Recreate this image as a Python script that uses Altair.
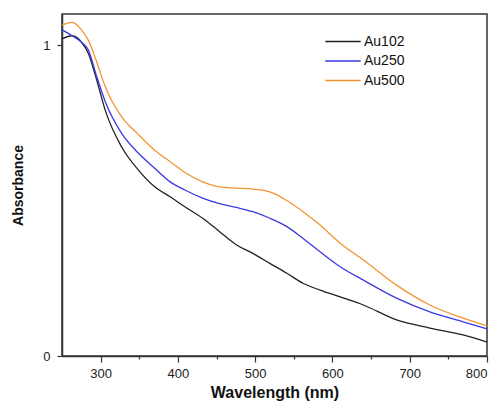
import altair as alt
import pandas as pd

wavelength = [250, 263, 275, 284, 295, 306, 327, 349, 370, 390, 409, 432, 454,
              476, 497, 519, 541, 562, 584, 610, 640, 683, 726, 769, 800]
au102 = [1.02, 1.03, 1.01, 0.974, 0.887, 0.79, 0.673, 0.598, 0.544, 0.512, 0.48,
         0.443, 0.40, 0.357, 0.33, 0.298, 0.266, 0.234, 0.212, 0.19, 0.164, 0.116,
         0.09, 0.068, 0.045]
au250 = [1.05, 1.03, 1.01, 0.985, 0.898, 0.818, 0.717, 0.652, 0.604, 0.56, 0.534,
         0.508, 0.49, 0.478, 0.464, 0.443, 0.416, 0.378, 0.335, 0.287, 0.244, 0.186,
         0.142, 0.11, 0.087]
au500 = [1.064, 1.073, 1.05, 1.016, 0.945, 0.866, 0.77, 0.712, 0.662, 0.625, 0.59,
         0.56, 0.544, 0.54, 0.537, 0.528, 0.50, 0.464, 0.421, 0.363, 0.309, 0.228,
         0.164, 0.122, 0.097]
series = ["Au102", "Au250", "Au500"]
colors = ["#222222", "#3a3ae0", "#f39433"]
x_ticks = [300, 350, 400, 450, 500, 550, 600, 650, 700, 750, 800]
y_ticks = [0, 0.5, 1]

rows = []
for name, vals in zip(series, [au102, au250, au500]):
    for w, v in zip(wavelength, vals):
        rows.append({"Wavelength": w, "Absorbance": v, "Sample": name})
df = pd.DataFrame(rows)

FONT = "Liberation Sans"

chart = alt.Chart(df).mark_line(interpolate="monotone", strokeWidth=1.3).encode(
    x=alt.X("Wavelength:Q",
            scale=alt.Scale(domain=[250, 800], nice=False, zero=False),
            axis=alt.Axis(title="Wavelength (nm)", values=x_ticks,
                          labelExpr="datum.value % 100 === 0 ? datum.label : ''",
                          tickSize={"condition": {"test": "datum.value % 100 === 0", "value": 6},
                                    "value": 3},
                          labelPadding=5, titlePadding=4, titleFontSize=16)),
    y=alt.Y("Absorbance:Q",
            scale=alt.Scale(domain=[0, 1.1], nice=False),
            axis=alt.Axis(title="Absorbance", values=y_ticks, format="d",
                          labelExpr="datum.value === 0.5 ? '' : datum.label",
                          tickSize={"condition": {"test": "datum.value === 0.5", "value": 3},
                                    "value": 5},
                          labelPadding=7, titlePadding=17, titleFontSize=14)),
    color=alt.Color("Sample:N",
                    scale=alt.Scale(domain=series, range=colors),
                    legend=alt.Legend(title=None, orient="none", legendX=273, legendY=19.5,
                                      symbolType="M-2.6,0H2.6", symbolSize=185,
                                      symbolStrokeWidth=1.4, symbolFillColor="transparent",
                                      labelFontSize=14,
                                      labelFont=FONT, labelColor="#111",
                                      rowPadding=4.5, labelOffset=13, padding=0)),
).properties(
    width=425, height=342, padding={"left": 3, "top": 6, "right": 0, "bottom": 2}
).configure_view(
    stroke="#333333", strokeWidth=1.5
).configure_axis(
    domainColor="#333333", domainWidth=1.5, tickColor="#333333", tickWidth=1.2,
    grid=False, labelFont=FONT, labelFontSize=13, labelColor="#222",
    titleFont=FONT, titleFontWeight="bold", titleColor="#111"
)

chart.save("out.html", embed_options={"renderer": "svg", "actions": False})
